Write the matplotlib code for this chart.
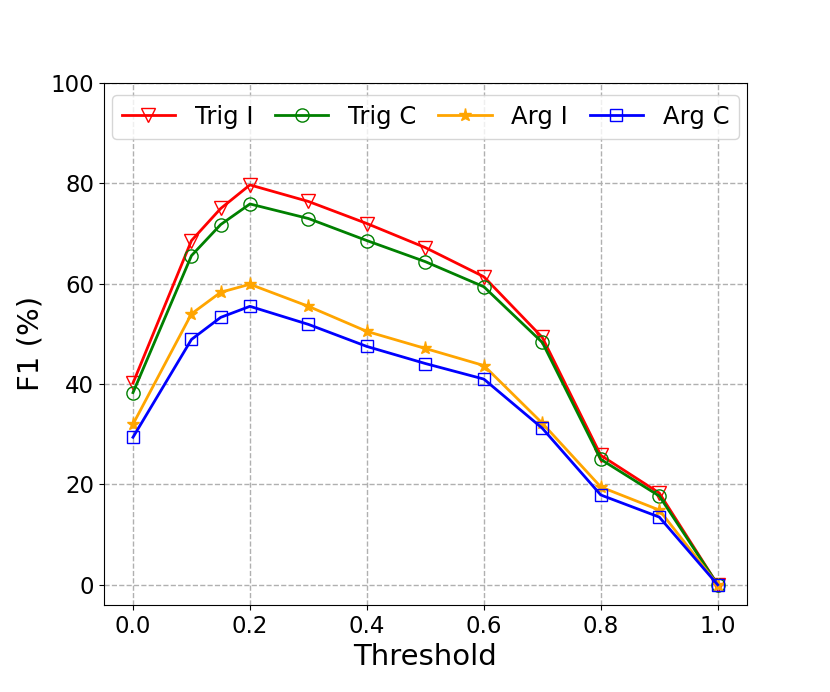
import numpy as np
import matplotlib
matplotlib.use('Agg')
import matplotlib.pyplot as plt

# thresholds and F1 scores (%)
thresholds = [0.0, 0.1, 0.15, 0.2, 0.3, 0.4, 0.5, 0.6, 0.7, 0.8, 0.9, 1.0]
trig_i = [40.2, 68.6, 75.0, 79.7, 76.4, 72.0, 67.2, 61.4, 49.3, 25.8, 18.3, 0.0]
trig_c = [38.3, 65.6, 71.8, 75.9, 73.0, 68.6, 64.4, 59.4, 48.3, 25.0, 17.7, 0.0]
arg_i = [32.0, 54.0, 58.3, 59.9, 55.5, 50.5, 47.1, 43.7, 32.2, 19.5, 14.9, 0.0]
arg_c = [29.4, 48.9, 53.3, 55.5, 51.9, 47.5, 44.1, 41.0, 31.2, 17.9, 13.5, 0.0]

fig = plt.figure(figsize=(8.3, 6.92), dpi=100)
ax = fig.add_subplot(111)
fig.subplots_adjust(left=0.125, right=0.9, top=0.88, bottom=0.126)

ax.plot(thresholds, trig_i, color='red', marker='v', markerfacecolor='none',
        markersize=9.5, linewidth=2, label='Trig I')
ax.plot(thresholds, trig_c, color='green', marker='o', markerfacecolor='none',
        markersize=9.5, linewidth=2, label='Trig C')
ax.plot(thresholds, arg_i, color='orange', marker='*', markersize=9.5,
        linewidth=2, label='Arg I')
ax.plot(thresholds, arg_c, color='blue', marker='s', markerfacecolor='none',
        markersize=8.5, linewidth=2, label='Arg C')

ax.set_ylim(top=100)
ax.set_xticks([0.0, 0.2, 0.4, 0.6, 0.8, 1.0])
ax.tick_params(labelsize=16.5)
ax.set_xlabel('Threshold', fontsize=21)
ax.set_ylabel('F1 (%)', fontsize=21)
ax.grid(True, linestyle='--', color='#b0b0b0', linewidth=1)
ax.legend(loc='upper center', ncol=4, fontsize=17.5, handlelength=2.2,
          columnspacing=0.9, handletextpad=0.8)

plt.savefig('out.png', dpi=100)
